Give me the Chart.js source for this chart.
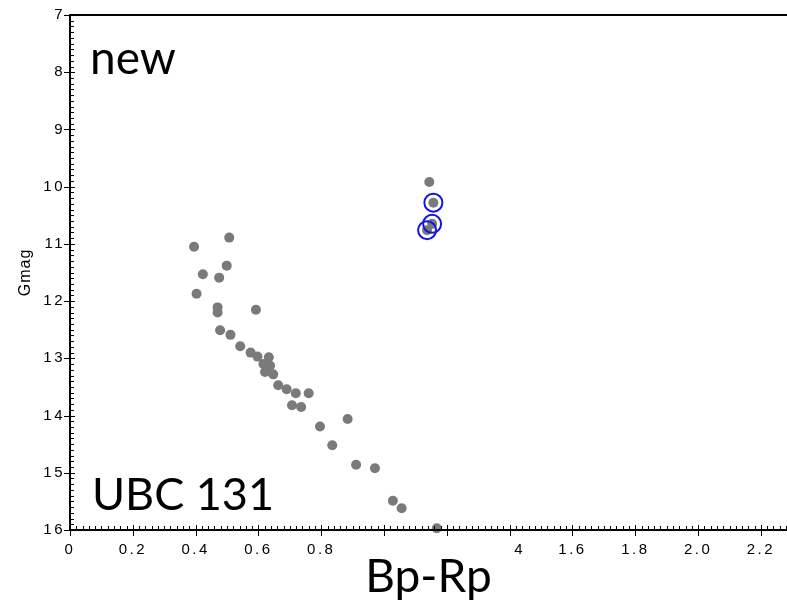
<!DOCTYPE html>
<html>
<head>
<meta charset="utf-8">
<script src="https://cdn.jsdelivr.net/npm/chart.js@4"></script>
<style>
	html, body { margin: 0; padding: 0; background: #fff; overflow: hidden; }
	canvas { display: block; }
</style>
</head>
<body>
<canvas id="cmdChart" width="787" height="605"></canvas>
<script>
// UBC 131 colour-magnitude diagram
const starBpRp = [
	0.395, 0.507, 0.499, 0.423, 0.475, 0.403, 0.470, 0.470, 0.592, 0.478,
	0.511, 0.542, 0.575, 0.597, 0.633, 0.616, 0.626, 0.637, 0.621, 0.647,
	0.663, 0.690, 0.719, 0.760, 0.707, 0.736, 0.796, 0.884, 0.835, 0.911,
	0.971, 1.028, 1.056, 1.168,
	1.144, 1.157, 1.137, 1.153
];
const starGmag = [
	11.05, 10.89, 11.38, 11.53, 11.59, 11.87, 12.11, 12.20, 12.15, 12.51,
	12.59, 12.79, 12.90, 12.97, 12.98, 13.10, 13.15, 13.13, 13.24, 13.28,
	13.47, 13.54, 13.61, 13.61, 13.82, 13.85, 14.19, 14.06, 14.52, 14.86,
	14.92, 15.49, 15.62, 15.97,
	9.92, 10.28, 10.76, 10.65
];
// stars circled in blue
const ringBpRp = [1.157, 1.137, 1.153];
const ringGmag = [10.28, 10.76, 10.65];

const xTickValues = [0, 0.2, 0.4, 0.6, 0.8, 1.0, 1.2, 1.4, 1.6, 1.8, 2.0, 2.2];
const xTickLabels = ["0", "0.2", "0.4", "0.6", "0.8", "", "", "   4", "1.6", "1.8", "2.0", "2.2"];
const yTickValues = [7, 8, 9, 10, 11, 12, 13, 14, 15, 16];

const noPadding = () => ({ left: 0, top: 0, right: 0, bottom: 0 });

const axisDecor = {
	id: "axisDecor",
	beforeDraw(chart) {
		chart.ctx.letterSpacing = "2.5px";
	},
	afterDraw(chart) {
		const ctx = chart.ctx;
		const a = chart.chartArea;
		const xs = chart.scales.x;
		const ys = chart.scales.y;
		ctx.save();
		ctx.letterSpacing = "0px";
		ctx.strokeStyle = "#000";

		// minor + major ticks
		ctx.lineWidth = 1;
		ctx.beginPath();
		for (let i = 0; i * 0.02 <= xs.max + 1e-9; i++) {
			const px = Math.round(xs.getPixelForValue(i * 0.02)) + 0.5;
			if (i % 10 === 0) {
				ctx.moveTo(px, a.bottom - 5);
				ctx.lineTo(px, a.bottom + 6);
			} else {
				ctx.moveTo(px, a.bottom - 4);
				ctx.lineTo(px, a.bottom + 1);
			}
		}
		for (let i = 70; i <= 160; i++) {
			const py = Math.round(ys.getPixelForValue(i / 10)) + 0.5;
			if (i % 10 === 0) {
				ctx.moveTo(a.left - 6, py);
				ctx.lineTo(a.left + 5, py);
			} else {
				ctx.moveTo(a.left - 1, py);
				ctx.lineTo(a.left + 4, py);
			}
		}
		ctx.stroke();

		// axis lines
		ctx.lineWidth = 2;
		ctx.beginPath();
		ctx.moveTo(a.left, a.top);
		ctx.lineTo(a.right, a.top);
		ctx.moveTo(a.left, a.top - 1);
		ctx.lineTo(a.left, a.bottom + 1);
		ctx.moveTo(a.left, a.bottom);
		ctx.lineTo(a.right, a.bottom);
		ctx.stroke();

		// labels
		ctx.fillStyle = "#000";
		ctx.font = "46px Lato";
		ctx.textAlign = "left";
		ctx.textBaseline = "alphabetic";
		ctx.fillText("new", 90, 74);
		ctx.font = "45px Lato";
		ctx.fillText("UBC 131", 92, 510);

		ctx.font = "46px Lato";
		ctx.textAlign = "center";
		ctx.fillText("Bp-Rp", (a.left + a.right) / 2, 592);

		ctx.font = "16px 'Liberation Sans'";
		ctx.letterSpacing = "1px";
		ctx.translate(30, (a.top + a.bottom) / 2);
		ctx.rotate(-Math.PI / 2);
		ctx.fillText("Gmag", 0, 0);
		ctx.restore();
	}
};

new Chart(document.getElementById("cmdChart"), {
	type: "scatter",
	data: {
		datasets: [
			{
				label: "rings",
				data: ringBpRp.map((v, i) => ({ x: v, y: ringGmag[i] })),
				pointRadius: 9,
				pointBorderWidth: 2,
				pointBorderColor: "#1414e6",
				pointBackgroundColor: "rgba(0,0,0,0)",
				clip: false,
			},
			{
				label: "stars",
				data: starBpRp.map((v, i) => ({ x: v, y: starGmag[i] })),
				pointRadius: 5,
				pointBorderWidth: 0,
				pointBackgroundColor: "#7a7a7a",
				clip: false,
			},
		],
	},
	options: {
		responsive: false,
		animation: false,
		layout: { autoPadding: false, padding: { top: 15, right: 0, left: 0, bottom: 0 } },
		plugins: {
			legend: { display: false },
			tooltip: { enabled: false },
		},
		scales: {
			x: {
				type: "linear",
				min: 0,
				max: 2.283,
				grid: { display: false, drawTicks: false },
				border: { display: false },
				afterBuildTicks: (s) => { s.ticks = xTickValues.map((v) => ({ value: v })); },
				afterFit: (s) => {
					s.height = 75;
					s.getPadding = noPadding;
				},
				ticks: {
					autoSkip: false,
					maxRotation: 0,
					padding: 11,
					color: "#000",
					font: { family: "Liberation Sans", size: 15 },
					callback: (v, i) => xTickLabels[i],
				},
			},
			y: {
				type: "linear",
				reverse: true,
				min: 7,
				max: 16,
				grid: { display: false, drawTicks: false },
				border: { display: false },
				afterBuildTicks: (s) => { s.ticks = yTickValues.map((v) => ({ value: v })); },
				afterFit: (s) => {
					s.width = 70;
					s.getPadding = noPadding;
				},
				ticks: {
					autoSkip: false,
					padding: 5,
					color: "#000",
					font: { family: "Liberation Sans", size: 15 },
					callback: (v) => String(v),
				},
			},
		},
	},
	plugins: [axisDecor],
});
</script>
</body>
</html>
